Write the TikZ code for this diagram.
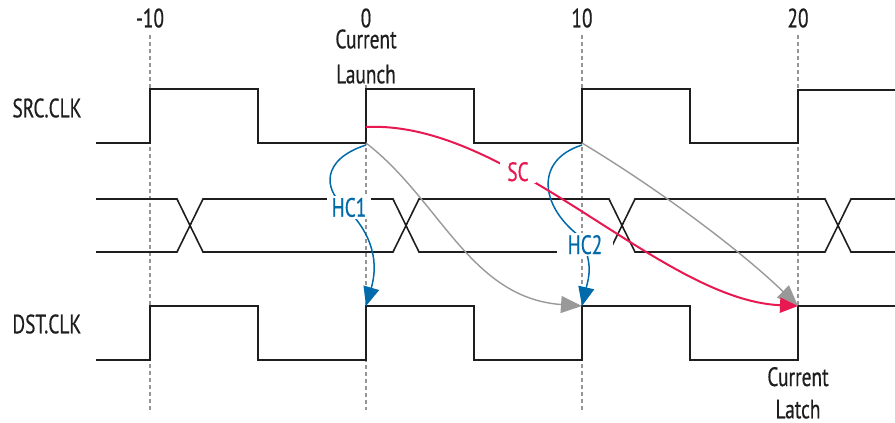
\documentclass[tikz,border=0pt]{standalone}
\usepackage{fontspec}
\setmainfont{PT Sans}[FakeStretch=0.73,FakeBold=0.5]
\usetikzlibrary{arrows.meta}
\definecolor{sigred}{RGB}{232,24,80}
\definecolor{sigblue}{RGB}{0,106,170}
\definecolor{arrgray}{RGB}{153,153,153}
\definecolor{guidecol}{RGB}{150,150,150}
\definecolor{wavecol}{RGB}{30,30,30}
\begin{document}
\begin{tikzpicture}[x=1pt,y=-1pt,
  txt/.style={font=\fontsize{26.5}{30}\selectfont, inner sep=0pt, anchor=base, text=wavecol},
  sig/.style={font=\fontsize{26.5}{30}\selectfont, inner ysep=2pt, anchor=base, fill=white},
  wave/.style={line width=1.6pt, draw=wavecol, line join=miter},
  guide/.style={line width=1.2pt, draw=guidecol, dash pattern=on 4pt off 3pt},
  grayarr/.style={line width=1.4pt, draw=arrgray, -{Triangle[length=21pt,width=17pt]}, arrgray},
  redarr/.style={line width=2pt, draw=sigred, -{Triangle[length=18pt,width=15pt]}, sigred},
  bluearr/.style={line width=1.5pt, draw=sigblue, -{Triangle[length=19pt,width=16pt]}, sigblue},
]
\useasboundingbox (0,0) rectangle (895,423);

% guide lines
\draw[guide] (150,35) -- (150,410);
\draw[guide] (366,85) -- (366,410);
\draw[guide] (582,35) -- (582,410);
\draw[guide] (798,35) -- (798,362);

% time labels
\node[txt] (tm10) at (150,27.3) {-10};
\node[txt] (t0) at (366,27.3) {0};
\node[txt] (t10) at (582,27.3) {10};
\node[txt] (t20) at (798,27.3) {20};
\node[txt] (cl1) at (366,48.3) {Current};
\node[txt] (cl2) at (366,83.3) {Launch};
\node[txt] (lt1) at (798,386) {Current};
\node[txt] (lt2) at (798,418.3) {Latch};
\node[txt, anchor=base west] (src) at (12.3,117.3) {SRC.CLK};
\node[txt, anchor=base west] (dst) at (12.3,333.3) {DST.CLK};

% SRC clock
\draw[wave] (96,143) -- (150,143) -- (150,89) -- (258,89) -- (258,143) -- (366,143)
  -- (366,89) -- (474,89) -- (474,143) -- (582,143) -- (582,89) -- (690,89)
  -- (690,143) -- (798,143) -- (798,90) -- (895,90);
% DST clock
\draw[wave] (96,360) -- (150,360) -- (150,306) -- (258,306) -- (258,360) -- (366,360)
  -- (366,306) -- (474,306) -- (474,360) -- (582,360) -- (582,306) -- (690,306)
  -- (690,360) -- (798,360) -- (798,306) -- (895,306);
% data bus
\draw[wave] (96,199) -- (177,199) -- (203,252) -- (393,252) -- (419,199) -- (609,199)
  -- (635,252) -- (825,252) -- (851,199) -- (895,199);
\draw[wave] (96,252) -- (177,252) -- (203,199) -- (393,199) -- (419,252) -- (609,252)
  -- (635,199) -- (825,199) -- (851,252) -- (895,252);

% key points
\coordinate (launchA) at (366,143);
\coordinate (launchB) at (582,143);
\coordinate (launchR) at (366,127);
\coordinate (latch0) at (366,306);
\coordinate (latch10) at (582,306);
\coordinate (latch20) at (798,306);

% gray arrows
\draw[grayarr] (launchA) .. controls (440,200) and (470,298) .. (latch10);
\draw[grayarr] (launchB) .. controls (660,190) and (740,250) .. (latch20);

% blue hold arrows
\draw[bluearr] (366,145) .. controls (320,160) and (325,190) .. (343,205)
  .. controls (375,235) and (378,265) .. (latch0);
\draw[bluearr] (582,145) .. controls (535,160) and (540,205) .. (578,235)
  .. controls (595,262) and (588,280) .. (latch10);

% red setup arrow
\draw[redarr] (launchR) .. controls (510,120) and (660,300) .. (latch20);

% labels with white background
\node[sig, text=sigblue, inner xsep=5pt] (hc1) at (349,216.7) {HC1};
\node[sig, text=sigblue, inner xsep=11pt] (hc2) at (585,254) {HC2};
\node[sig, text=sigred, inner xsep=7pt] (sc) at (518,181) {SC};
\end{tikzpicture}
\end{document}
